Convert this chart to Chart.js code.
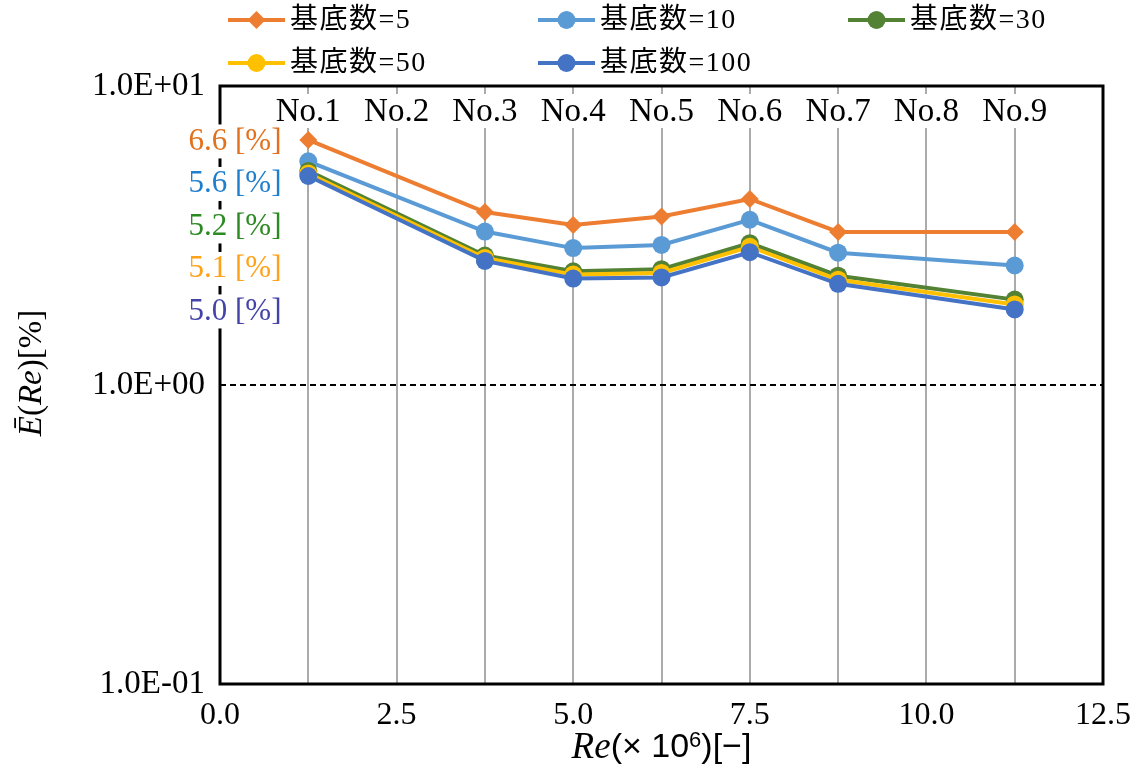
<!DOCTYPE html>
<html>
<head>
<meta charset="utf-8">
<title>Ē(Re) vs Re</title>
<script src="https://cdn.jsdelivr.net/npm/chart.js@4/dist/chart.umd.min.js"></script>
<style>
  html, body { margin: 0; padding: 0; background: #ffffff; }
  #wrap { width: 1137px; height: 776px; }
</style>
</head>
<body>
<div id="wrap"><canvas id="c" width="1137" height="776"></canvas></div>
<script>
// Reynolds number (×10^6) of each measured case
const reValues = [1.25, 3.75, 5.0, 6.25, 7.5, 8.75, 11.25];

// mean error Ē(Re) [%] for each number of bases
const base5   = [6.6, 3.79, 3.43, 3.66, 4.19, 3.25, 3.25];
const base10  = [5.6, 3.26, 2.87, 2.94, 3.57, 2.77, 2.51];
const base30  = [5.2, 2.71, 2.40, 2.44, 2.98, 2.32, 1.93];
const base50  = [5.1, 2.66, 2.34, 2.37, 2.90, 2.25, 1.86];
const base100 = [5.0, 2.60, 2.27, 2.29, 2.78, 2.18, 1.79];

const seriesNames = ['基底数=5', '基底数=10', '基底数=30', '基底数=50', '基底数=100'];

// case labels along the top of the plot
const caseNames = ['No.1', 'No.2', 'No.3', 'No.4', 'No.5', 'No.6', 'No.7', 'No.8', 'No.9'];
const caseRe    = [1.25, 2.5, 3.75, 5.0, 6.25, 7.5, 8.75, 10.0, 11.25];

// y tick values and their labels
const yTicks      = [0.1, 1, 10];
const yTickLabels = ['1.0E-01', '1.0E+00', '1.0E+01'];

// styling
const lineColors  = ['#ED7D31', '#5B9BD5', '#548235', '#FFC000', '#4472C4'];
const labelColors = ['#E2711D', '#1F7FCF', '#2C8A22', '#FFA21A', '#4444A8'];
const markers     = ['rectRot', 'circle', 'circle', 'circle', 'circle'];
const seriesData  = [base5, base10, base30, base50, base100];

const SERIF = '"Liberation Serif", "DejaVu Serif", serif';
const LEGEND_FONT = '28px "Liberation Serif", "Noto Sans CJK JP", serif';

function drawMarker(ctx, style, x, y, r, color) {
  ctx.save();
  ctx.fillStyle = color;
  ctx.beginPath();
  if (style === 'rectRot') {
    ctx.moveTo(x - r, y);
    ctx.lineTo(x, y - r);
    ctx.lineTo(x + r, y);
    ctx.lineTo(x, y + r);
    ctx.closePath();
  } else {
    ctx.arc(x, y, r, 0, Math.PI * 2);
  }
  ctx.fill();
  ctx.restore();
}

function drawParts(ctx, parts, cx, cy) {
  let total = 0;
  parts.forEach(p => { ctx.font = p.font; p.w = ctx.measureText(p.t).width; total += p.w; });
  let x = cx - total / 2;
  ctx.textBaseline = 'middle';
  ctx.textAlign = 'left';
  parts.forEach(p => {
    ctx.font = p.font;
    ctx.fillText(p.t, x, cy + (p.dy || 0));
    x += p.w;
  });
}

const decorations = {
  id: 'decorations',
  beforeDatasetsDraw(chart) {
    const ctx = chart.ctx;
    const area = chart.chartArea;
    const xs = chart.scales.x;
    const ys = chart.scales.y;

    // dashed reference line at 1 %
    const y1 = ys.getPixelForValue(1);
    ctx.save();
    ctx.strokeStyle = '#000000';
    ctx.lineWidth = 1.8;
    ctx.setLineDash([6, 4]);
    ctx.beginPath();
    ctx.moveTo(area.left, y1);
    ctx.lineTo(area.right, y1);
    ctx.stroke();
    ctx.restore();

    // case names with white boxes over the grid lines
    ctx.save();
    ctx.font = '33px ' + SERIF;
    ctx.textAlign = 'center';
    ctx.textBaseline = 'middle';
    caseNames.forEach((name, i) => {
      const x = xs.getPixelForValue(caseRe[i]);
      const w = ctx.measureText(name).width;
      ctx.fillStyle = '#ffffff';
      ctx.fillRect(x - w / 2 - 4, area.top + 8, w + 8, 34);
      ctx.fillStyle = '#000000';
      ctx.fillText(name, x, area.top + 26);
    });
    ctx.restore();
  },
  afterDatasetsDraw(chart) {
    const ctx = chart.ctx;
    const area = chart.chartArea;
    const ys = chart.scales.y;

    // plot frame
    ctx.save();
    ctx.strokeStyle = '#000000';
    ctx.lineWidth = 3;
    ctx.strokeRect(area.left, area.top, area.right - area.left, area.bottom - area.top);
    ctx.restore();

    // first-case values stacked beside the left axis
    ctx.save();
    ctx.font = '31px ' + SERIF;
    ctx.textAlign = 'center';
    ctx.textBaseline = 'middle';
    const y0 = ys.getPixelForValue(base5[0]) + 1.5;
    seriesData.forEach((arr, i) => {
      const txt = arr[0].toFixed(1) + ' [%]';
      const w = ctx.measureText(txt).width;
      const cx = 235, cy = y0 + i * 42.5;
      ctx.fillStyle = '#ffffff';
      ctx.fillRect(cx - w / 2 - 3, cy - 17, w + 6, 34);
      ctx.fillStyle = labelColors[i];
      ctx.fillText(txt, cx, cy);
    });
    ctx.restore();

    // legend, three columns
    const colX = [228, 538, 848];
    const rowY = [20, 63];
    ctx.save();
    seriesNames.forEach((name, i) => {
      const x0 = colX[i % 3];
      const y = rowY[Math.floor(i / 3)];
      ctx.strokeStyle = lineColors[i];
      ctx.lineWidth = 4;
      ctx.beginPath();
      ctx.moveTo(x0, y);
      ctx.lineTo(x0 + 57, y);
      ctx.stroke();
      drawMarker(ctx, markers[i], x0 + 28.5, y, 9, lineColors[i]);
      ctx.fillStyle = '#000000';
      ctx.font = LEGEND_FONT;
      ctx.letterSpacing = '1.5px';
      ctx.textAlign = 'left';
      ctx.textBaseline = 'middle';
      ctx.fillText(name, x0 + 62, y + 1);
      ctx.letterSpacing = '0px';
    });
    ctx.restore();

    // x axis title
    ctx.save();
    ctx.fillStyle = '#000000';
    drawParts(ctx, [
      { t: 'Re', font: 'italic 37px ' + SERIF },
      { t: '(× 10', font: '34px "Liberation Sans", sans-serif' },
      { t: '6', font: '22px "Liberation Sans", sans-serif', dy: -7 },
      { t: ')[−]', font: '34px "Liberation Sans", sans-serif' }
    ], (area.left + area.right) / 2, 748);
    ctx.restore();

    // y axis title
    ctx.save();
    ctx.fillStyle = '#000000';
    ctx.translate(32, 373);
    ctx.rotate(-Math.PI / 2);
    drawParts(ctx, [
      { t: 'Ē', font: 'italic 33px ' + SERIF },
      { t: '(', font: '33px ' + SERIF },
      { t: 'Re', font: 'italic 33px ' + SERIF },
      { t: ')', font: '33px ' + SERIF },
      { t: '[%]', font: '33px ' + SERIF }
    ], 0, 0);
    ctx.restore();
  }
};

const datasets = seriesData.map((arr, i) => ({
  label: seriesNames[i],
  data: arr.map((v, j) => ({ x: reValues[j], y: v })),
  borderColor: lineColors[i],
  backgroundColor: lineColors[i],
  pointBackgroundColor: lineColors[i],
  pointBorderColor: lineColors[i],
  pointBorderWidth: 0,
  pointStyle: markers[i],
  pointRadius: 9,
  borderWidth: 4,
  tension: 0,
  fill: false,
  order: seriesData.length - 1 - i
}));

new Chart(document.getElementById('c').getContext('2d'), {
  type: 'line',
  data: { datasets },
  options: {
    responsive: false,
    animation: false,
    layout: { padding: { top: 86, right: 34, left: 0, bottom: 0 } },
    plugins: { legend: { display: false }, tooltip: { enabled: false } },
    scales: {
      x: {
        type: 'linear',
        min: 0,
        max: 12.5,
        afterFit(scale) { scale.height = 92; scale.paddingLeft = 0; scale.paddingRight = 0; },
        ticks: {
          stepSize: 1.25,
          autoSkip: false,
          maxRotation: 0,
          padding: 12,
          color: '#000000',
          font: { family: SERIF, size: 32 },
          callback(v) {
            const k = v / 2.5;
            return Math.abs(k - Math.round(k)) < 1e-6 ? Number(v).toFixed(1) : '';
          }
        },
        grid: { color: '#ABABAB', lineWidth: 2, drawTicks: false },
        border: { display: false }
      },
      y: {
        type: 'logarithmic',
        min: 0.1,
        max: 10,
        afterFit(scale) { scale.width = 220; scale.paddingTop = 0; scale.paddingBottom = 0; },
        afterBuildTicks(scale) { scale.ticks = yTicks.map(v => ({ value: v })); },
        ticks: {
          padding: 15,
          color: '#000000',
          font: { family: SERIF, size: 33 },
          callback(v, i) { return yTickLabels[i]; }
        },
        grid: { display: false, drawTicks: false },
        border: { display: false }
      }
    }
  },
  plugins: [decorations]
});
</script>
</body>
</html>
